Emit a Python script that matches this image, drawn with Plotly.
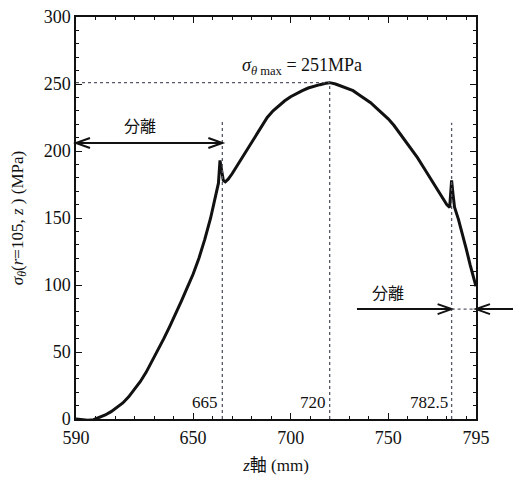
import plotly.graph_objects as go

# ---- data ----
z_mm = [590, 593, 596, 599, 602, 605, 608, 611, 614, 617, 620, 623, 626, 629, 632,
        635, 638, 641, 644, 647, 650, 653, 656, 659, 661, 663, 663.8, 664.5, 665.5,
        666.5, 668, 670, 673, 676, 679, 682, 685, 688, 691, 694, 697, 700, 703, 706,
        709, 712, 715, 718, 720, 723, 726, 729, 732, 735, 738, 741, 744, 747, 750,
        753, 756, 759, 762, 765, 768, 771, 774, 777, 780, 781.5, 782.5, 783.2, 784,
        786, 788, 790, 792, 795]
sigma = [0, -0.5, -1, -0.5, 1, 3, 5.5, 8.5, 12, 16.5, 22, 28, 35, 43, 51,
         60, 69, 78, 88, 98, 108, 120, 134, 150, 162, 176, 193, 186, 178,
         177, 179, 183, 190, 198, 205, 212, 219, 225, 230, 234, 237.5, 240.5, 243, 245,
         247, 248.5, 249.5, 250.5, 251, 250, 248.5, 247, 245, 242, 239, 236, 232, 228, 224,
         219, 213, 207, 201, 195, 188, 181, 173, 166, 160, 158, 178, 168, 158,
         149, 139, 127, 115, 99]

x_tickvals = [590, 650, 700, 750, 795]
y_tickvals = [0, 50, 100, 150, 200, 250, 300]
marks = [665, 720, 782.5]          # vertical reference lines
mark_tops = [222, 251, 221]
mark_labels = ["665", "720", "782.5"]
sigma_max = 251
sep_left = (590, 665, 206)         # x0, x1, y of left separation arrow
sep_right = (734, 782.5, 795, 814, 82)  # line start, tip1, tip2, outer start, y

X0, X1, Y0, Y1 = 590, 795, 0, 300
SERIF = "'Liberation Serif', 'Times New Roman', 'Noto Sans CJK JP', serif"

def px_(z):
    return (z - X0) / (X1 - X0)

def py_(s):
    return (s - Y0) / (Y1 - Y0)

fig = go.Figure()
fig.add_trace(go.Scatter(x=z_mm, y=sigma, mode="lines",
                         line=dict(color="#111", width=3), showlegend=False))

shapes = []
dot = dict(color="#555a66", width=1.3, dash="dot")
shapes.append(dict(type="line", xref="x", yref="y", x0=X0, x1=720, y0=sigma_max, y1=sigma_max, line=dot))
for m, t in zip(marks, mark_tops):
    shapes.append(dict(type="line", xref="x", yref="y", x0=m, x1=m, y0=0, y1=t, line=dot))

arrow_line = dict(color="#111", width=2)
AW, AH = 14 / 400, 5 / 402

def vhead(xt, yt, direction):
    xb = xt - direction * AW
    return dict(type="path", xref="paper", yref="paper",
                path=f"M{xb},{yt + AH} L{xt},{yt} L{xb},{yt - AH}",
                line=arrow_line)

a, b, yv = sep_left
shapes.append(dict(type="line", xref="paper", yref="paper", x0=px_(a), x1=px_(b),
                   y0=py_(yv), y1=py_(yv), line=arrow_line))
shapes.append(vhead(px_(a), py_(yv), -1))
shapes.append(vhead(px_(b), py_(yv), +1))
s0, t1, t2, s3, yr = sep_right
shapes.append(dict(type="line", xref="paper", yref="paper", x0=px_(s0), x1=px_(t1),
                   y0=py_(yr), y1=py_(yr), line=arrow_line))
shapes.append(vhead(px_(t1), py_(yr), +1))
shapes.append(dict(type="line", xref="paper", yref="paper", x0=px_(s3), x1=px_(t2),
                   y0=py_(yr), y1=py_(yr), line=arrow_line))
shapes.append(vhead(px_(t2), py_(yr), -1))
shapes.append(dict(type="line", xref="x", yref="y", x0=t1, x1=t2, y0=yr, y1=yr, line=dot))

annotations = [
    dict(x=706, y=263, xref="x", yref="y", showarrow=False,
         text="<i>σ</i><sub><i>θ</i> max</sub> = 251MPa", font=dict(size=18, family=SERIF, color="#111")),
    dict(x=623, y=218, xref="x", yref="y", showarrow=False,
         text="分離", font=dict(size=16, family=SERIF, color="#111")),
    dict(x=750, y=94, xref="x", yref="y", showarrow=False,
         text="分離", font=dict(size=16, family=SERIF, color="#111")),
]
for m, lab in zip(marks, mark_labels):
    annotations.append(dict(x=m, y=12.5, xref="x", yref="y", showarrow=False, xanchor="right",
                            xshift=-2, text=lab, font=dict(size=17, family=SERIF, color="#111")))

axis_common = dict(showgrid=False, zeroline=False, showline=True, linecolor="#111", linewidth=1.5,
                   mirror="ticks", ticks="inside", ticklen=6, tickcolor="#111", tickwidth=1,
                   automargin=False,
                   tickfont=dict(size=18, family=SERIF, color="#111"))

fig.update_layout(
    width=513, height=477,
    margin=dict(l=76, r=37, t=17, b=58),
    paper_bgcolor="white", plot_bgcolor="white",
    font=dict(family=SERIF, color="#111"),
    shapes=shapes, annotations=annotations,
    xaxis=dict(range=[X0, X1], tickvals=x_tickvals, ticklabelstandoff=2,
               minor=dict(dtick=10, ticks="inside", ticklen=3, tickcolor="#111"),
               title=dict(text="<i>z</i>軸 (mm)", font=dict(size=17, family=SERIF, color="#111"), standoff=12),
               **axis_common),
    yaxis=dict(range=[Y0, Y1], tickvals=y_tickvals,
               minor=dict(dtick=10, ticks="inside", ticklen=3, tickcolor="#111"),
               title=dict(text="<i>σ</i><sub><i>θ</i></sub>(<i>r</i>=105, <i>z</i> ) (MPa)",
                          font=dict(size=17, family=SERIF, color="#111"), standoff=16),
               **axis_common),
)

fig.write_html("out.html")
